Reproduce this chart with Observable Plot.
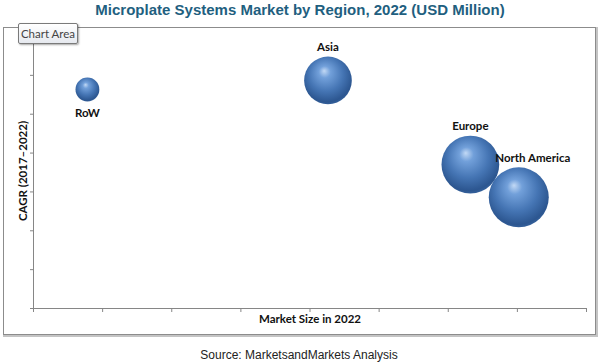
<!DOCTYPE html>
<html><head><meta charset="utf-8">
<script src="https://cdn.jsdelivr.net/npm/d3@7"></script>
<script src="https://cdn.jsdelivr.net/npm/@observablehq/plot@0.6"></script>
<style>
body{margin:0;background:#fff;}
#wrap{position:relative;width:600px;height:364px;overflow:hidden;font-family:"Liberation Sans",Arial,sans-serif;background:#fff;}
#title{position:absolute;left:0;top:1px;width:600px;text-align:center;font-weight:bold;font-size:15px;line-height:18px;color:#1f5f80;}
#box{position:absolute;left:3px;top:27px;width:591px;height:306px;border:1px solid #8c8c8c;box-shadow:1px 1px 0 1px #c4c4c4;}
#chart{position:absolute;left:0;top:0;}
#tip{position:absolute;left:18px;top:23px;width:58px;height:19px;border:1px solid #7a7a7a;border-radius:2px;background:linear-gradient(#ffffff,#e6e9ef);box-shadow:1px 1px 2px rgba(0,0,0,0.35);font-family:Lato,sans-serif;font-size:11.5px;line-height:19px;text-align:center;color:#444;}
.axl{position:absolute;font-family:Lato,sans-serif;font-weight:bold;font-size:11.5px;color:#111;white-space:nowrap;}
#ylabel{left:22px;top:171px;transform:translate(-50%,-50%) rotate(-90deg);}
#xlabel{left:310px;top:318px;transform:translate(-50%,-50%);}
#source{position:absolute;left:0;top:348px;width:598px;text-align:center;font-size:12px;color:#222;}
</style></head><body>
<div id="wrap">
  <div id="title">Microplate Systems Market by Region, 2022 (USD Million)</div>
  <div id="box"></div>
  <div id="chart"></div>
  <div id="tip">Chart Area</div>
  <div id="ylabel" class="axl">CAGR (2017–2022)</div>
  <div id="xlabel" class="axl">Market Size in 2022</div>
  <div id="source">Source: MarketsandMarkets Analysis</div>
</div>
<script>
// Data
const regions = ["RoW", "Asia", "Europe", "North America"];
const marketSize = [78, 426, 632, 702];      // x (arbitrary units, no tick labels shown)
const cagr = [11.27, 11.74, 7.41, 5.72];     // y (arbitrary units, no tick labels shown)
const bubbleSize = [150, 600, 880, 950];     // bubble size
const labelPos = ["below", "above", "above", "above"];
const xTicks = [0, 100, 200, 300, 400, 500, 600, 700, 800];
const yTicks = [0, 2, 4, 6, 8, 10, 12, 14];

const data = regions.map((name, i) => ({name, x: marketSize[i], y: cagr[i], size: bubbleSize[i], pos: labelPos[i]}));

const rMax = 30, sizeMax = 950;
const rPix = v => rMax * Math.sqrt(v / sizeMax);
const labelDx = {"North America": 14};

const labelMarks = data.map(d => Plot.text([d], {
  x: "x", y: "y", text: "name",
  dy: d.pos === "below" ? rPix(d.size) + 12 : -(rPix(d.size) + 9),
  dx: labelDx[d.name] || 0,
  fill: "#111", fontWeight: "bold", fontSize: 11.5, fontFamily: "Lato, sans-serif"
}));

const svg = Plot.plot({
  width: 600, height: 364,
  marginLeft: 33, marginRight: 14, marginTop: 36, marginBottom: 56,
  style: {background: "transparent", color: "#868686", overflow: "visible"},
  x: {domain: [0, 800], ticks: xTicks, tickSize: 4, tickFormat: () => "", label: null},
  y: {domain: [0, 14], ticks: yTicks, tickSize: 3, tickFormat: () => "", label: null},
  r: {type: "sqrt", domain: [0, sizeMax], range: [0, rMax]},
  marks: [
    Plot.ruleX([0], {stroke: "#868686"}),
    Plot.ruleY([0], {stroke: "#868686"}),
    Plot.dot(data, {x: "x", y: "y", r: "size", fill: "url(#sphere)", stroke: "none"}),
    ...labelMarks
  ]
});

d3.select(svg).insert("defs", ":first-child").html(`
  <radialGradient id="sphere" cx="0.48" cy="0.42" r="0.62" fx="0.42" fy="0.3">
    <stop offset="0" stop-color="#c2d9f5"/>
    <stop offset="0.2" stop-color="#72a0da"/>
    <stop offset="0.58" stop-color="#4575b4"/>
    <stop offset="0.88" stop-color="#2c5690"/>
    <stop offset="1" stop-color="#3b68a3"/>
  </radialGradient>`);

document.getElementById("chart").appendChild(svg);
</script>
</body></html>
